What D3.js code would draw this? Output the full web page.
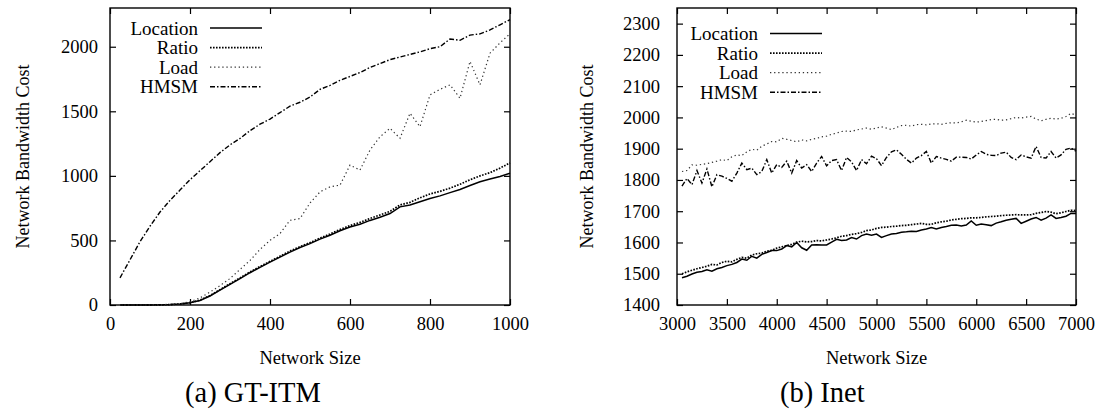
<!DOCTYPE html>
<html>
<head>
<meta charset="utf-8">
<script src="https://cdn.jsdelivr.net/npm/d3@7"></script>
<style>
  body { margin: 0; background: #fff; }
  svg { display: block; }
  svg text { font-family: "Liberation Serif", serif; }
</style>
</head>
<body>
<script>
// (a) GT-ITM
var gtSizes = [25,50,75,100,125,150,175,200,225,250,275,300,325,350,375,400,425,450,475,500,
  525,550,575,600,625,650,675,700,725,750,775,800,825,850,875,900,925,950,975,1000];
var gtLocation = [0,0,0,0,1,3,8,17,35,70,115,160,205,250,292,332,371,410,445,475,
  510,540,575,604,625,655,680,708,760,775,800,825,845,870,895,925,955,975,995,1020];
var gtRatio = [0,0,0,0,1,3,8,18,38,74,119,165,210,256,298,338,378,418,452,483,
  518,550,585,615,640,670,697,725,775,795,830,860,880,905,935,970,1000,1025,1060,1100];
var gtLoad = [0,0,0,0,1,4,10,25,55,100,150,205,275,345,430,501,553,656,669,790,
  876,915,928,1083,1045,1200,1303,1368,1291,1485,1381,1627,1670,1705,1601,1886,1705,1950,2030,2100];
var gtHMSM = [210,350,490,610,720,810,890,970,1040,1110,1180,1240,1290,1350,1400,1440,1490,1540,1570,1610,
  1670,1700,1740,1770,1800,1840,1870,1900,1920,1940,1960,1985,2000,2060,2050,2090,2100,2130,2170,2210];
var gtXTicks = [0,200,400,600,800,1000];
var gtYTicks = [0,500,1000,1500,2000];

// (b) Inet
var inetSizes = d3.range(3050, 7001, 50);
var inetLocation = [1487,1492,1499,1505,1507,1513,1508,1516,1520,1526,1530,1536,1547,1543,1556,1550,1562,1568,1574,1574,
  1579,1590,1586,1600,1583,1575,1592,1593,1592,1592,1601,1610,1606,1608,1616,1611,1622,1627,1623,1627,
  1616,1622,1627,1629,1633,1634,1636,1635,1640,1643,1648,1643,1648,1651,1655,1656,1653,1656,1669,1655,
  1659,1657,1654,1662,1666,1671,1674,1677,1661,1668,1675,1680,1671,1678,1688,1677,1680,1684,1693,1693];
var inetRatio = [1500,1506,1511,1516,1520,1524,1530,1528,1536,1540,1538,1546,1552,1550,1560,1564,1566,1572,1575,1582,
  1586,1590,1594,1601,1604,1602,1603,1606,1605,1608,1611,1615,1620,1622,1626,1628,1632,1638,1640,1645,
  1648,1649,1651,1652,1654,1655,1657,1659,1661,1658,1658,1663,1666,1668,1672,1674,1676,1677,1679,1679,
  1680,1682,1683,1684,1686,1687,1688,1689,1688,1688,1689,1693,1696,1699,1697,1692,1695,1699,1703,1702];
var inetLoad = [1827,1830,1848,1847,1850,1852,1856,1860,1865,1862,1874,1880,1878,1890,1898,1895,1908,1915,1923,1922,
  1933,1930,1926,1922,1928,1925,1930,1933,1938,1940,1946,1950,1955,1956,1955,1960,1963,1966,1962,1966,
  1970,1966,1961,1968,1974,1975,1972,1977,1978,1976,1979,1980,1978,1981,1983,1982,1986,1991,1988,1985,
  1987,1990,1993,1994,1991,1992,1996,2000,1998,2001,2003,1995,1989,1994,1997,1995,1997,2003,2013,2007];
var inetHMSM = [1780,1805,1785,1830,1790,1835,1778,1817,1812,1805,1796,1822,1854,1833,1838,1817,1827,1865,1822,1849,
  1840,1860,1822,1862,1838,1849,1827,1854,1875,1845,1862,1865,1830,1872,1858,1830,1865,1852,1876,1868,
  1846,1872,1890,1896,1882,1866,1854,1870,1878,1891,1854,1875,1870,1866,1860,1873,1873,1872,1867,1880,
  1891,1882,1879,1878,1886,1889,1872,1865,1880,1874,1870,1907,1872,1870,1891,1870,1880,1898,1902,1892];
var inetXTicks = [3000,3500,4000,4500,5000,5500,6000,6500,7000];
var inetYTicks = [1400,1500,1600,1700,1800,1900,2000,2100,2200,2300];

var seriesNames = ['Location', 'Ratio', 'Load', 'HMSM'];
var seriesStyle = {
  Location: { dash: null, width: 1.5, color: '#000' },
  Ratio:    { dash: '1.6,1.4', width: 1.7, color: '#000' },
  Load:     { dash: '1.3,2.8', width: 1.2, color: '#333' },
  HMSM:     { dash: '5,2,1.5,2', width: 1.4, color: '#000' }
};

var svg = d3.select('body').append('svg')
  .attr('width', 1106)
  .attr('height', 411)
  .attr('font-family', 'Liberation Serif');

function drawPanel(opts){
  var x = d3.scaleLinear().domain(opts.xDomain).range([opts.left, opts.right]);
  var y = d3.scaleLinear().domain(opts.yDomain).range([opts.bottom, opts.top]);
  var g = svg.append('g');

  // gnuplot style: ticks point inward, mirrored on top and right
  var axes = [
    { t: 'translate(0,' + opts.bottom + ')', a: d3.axisBottom(x).tickValues(opts.xTicks).tickPadding(12).tickFormat(d3.format('d')) },
    { t: 'translate(0,' + opts.top + ')', a: d3.axisTop(x).tickValues(opts.xTicks).tickFormat('') },
    { t: 'translate(' + opts.left + ',0)', a: d3.axisLeft(y).tickValues(opts.yTicks).tickPadding(opts.yPad).tickFormat(d3.format('d')) },
    { t: 'translate(' + opts.right + ',0)', a: d3.axisRight(y).tickValues(opts.yTicks).tickFormat('') }
  ];
  axes.forEach(function(ax){
    g.append('g')
      .attr('transform', ax.t)
      .call(ax.a.tickSize(-6))
      .attr('font-family', null)
      .attr('font-size', null);
  });

  g.selectAll('.domain').remove();
  g.selectAll('.tick line').attr('stroke', '#000').attr('stroke-width', 1.2);
  g.selectAll('.tick text')
    .attr('font-size', 18.5)
    .attr('fill', '#000');

  g.append('rect')
    .attr('x', opts.left).attr('y', opts.top)
    .attr('width', opts.right - opts.left).attr('height', opts.bottom - opts.top)
    .attr('fill', 'none').attr('stroke', '#000').attr('stroke-width', 1.4);

  var line = d3.line()
    .x(function(d){ return x(d[0]); })
    .y(function(d){ return y(d[1]); });

  seriesNames.forEach(function(name){
    var st = seriesStyle[name];
    var pts = opts.xs.map(function(v, i){ return [v, opts.series[name][i]]; });
    g.append('path')
      .datum(pts)
      .attr('d', line)
      .attr('fill', 'none')
      .attr('stroke', st.color)
      .attr('stroke-width', st.width)
      .attr('stroke-dasharray', st.dash);
  });

  // key
  seriesNames.forEach(function(name, i){
    var st = seriesStyle[name];
    var ky = opts.keyY + i * 19.6;
    g.append('text')
      .attr('x', opts.keyX).attr('y', ky)
      .attr('dy', '0.35em')
      .attr('text-anchor', 'end')
      .attr('font-size', 19)
      .text(name);
    g.append('line')
      .attr('x1', opts.keyX + 12).attr('x2', opts.keyX + 64)
      .attr('y1', ky).attr('y2', ky)
      .attr('stroke', st.color)
      .attr('stroke-width', st.width)
      .attr('stroke-dasharray', st.dash);
  });

  g.append('text')
    .attr('transform', 'translate(' + opts.yLabelX + ',' + ((opts.top + opts.bottom) / 2) + ') rotate(-90)')
    .attr('text-anchor', 'middle')
    .attr('font-size', 18)
    .text('Network Bandwidth Cost');

  g.append('text')
    .attr('x', (opts.left + opts.right) / 2).attr('y', 364)
    .attr('text-anchor', 'middle')
    .attr('font-size', 18.5)
    .text('Network Size');

  g.append('text')
    .attr('x', opts.captionX).attr('y', 402)
    .attr('text-anchor', 'start')
    .attr('font-size', 28.5)
    .text(opts.caption);
}

drawPanel({
  left: 110, right: 510, top: 8, bottom: 305,
  xDomain: [0, 1000], yDomain: [0, 2300],
  xTicks: gtXTicks, yTicks: gtYTicks, yPad: 12,
  xs: gtSizes,
  series: { Location: gtLocation, Ratio: gtRatio, Load: gtLoad, HMSM: gtHMSM },
  keyX: 198, keyY: 28,
  yLabelX: 29, captionX: 185, caption: '(a) GT-ITM'
});

drawPanel({
  left: 677, right: 1076, top: 8, bottom: 305,
  xDomain: [3000, 7000], yDomain: [1400, 2350],
  xTicks: inetXTicks, yTicks: inetYTicks, yPad: 17,
  xs: inetSizes,
  series: { Location: inetLocation, Ratio: inetRatio, Load: inetLoad, HMSM: inetHMSM },
  keyX: 758, keyY: 33.5,
  yLabelX: 593, captionX: 780, caption: '(b) Inet'
});
</script>
</body>
</html>
